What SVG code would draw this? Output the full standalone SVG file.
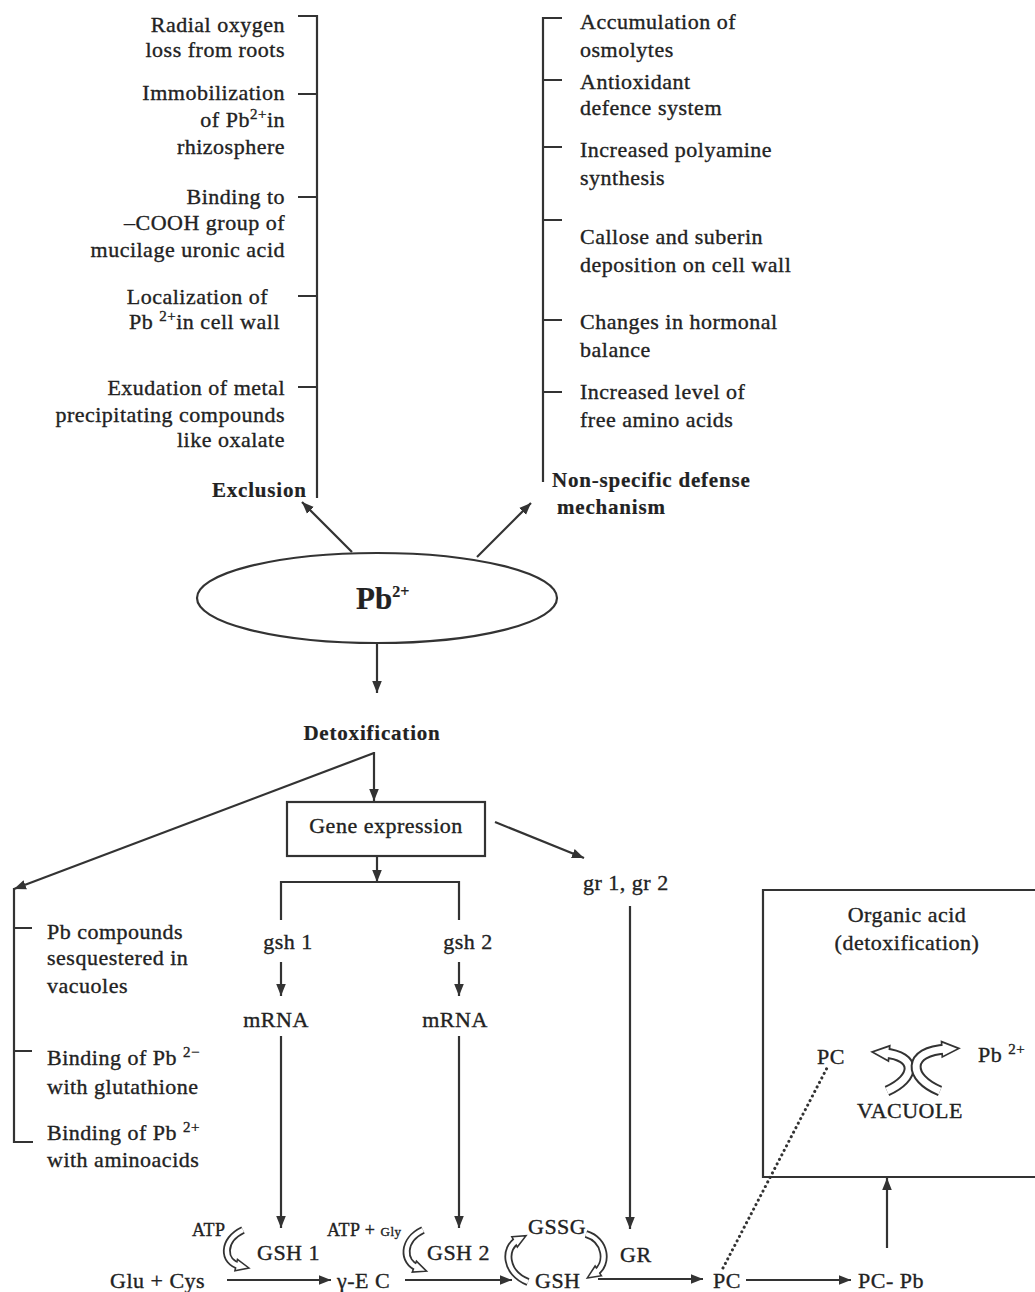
<svg xmlns="http://www.w3.org/2000/svg" width="1035" height="1292" viewBox="0 0 1035 1292">
<style>
text{font-family:"Liberation Serif","Times New Roman",serif;fill:#222;font-size:22px;letter-spacing:0.5px;stroke:#222;stroke-width:0.35px}
.b{font-weight:bold;font-size:21px;letter-spacing:0.8px;stroke-width:0.2px}
.e{text-anchor:end}
.m{text-anchor:middle}
.sm{font-size:18px}
.pb{font-weight:bold;font-size:31px;letter-spacing:0;stroke-width:0.2px}
.ln{stroke:#333;stroke-width:2.2;fill:none}
.ar{stroke:#333;stroke-width:2.2;fill:none;marker-end:url(#arr)}
.band{stroke:#333;stroke-width:8;fill:none;marker-end:url(#hol)}
.bandw{stroke:#fff;stroke-width:4.4;fill:none}
.band2{stroke:#333;stroke-width:11;fill:none;marker-end:url(#hol2)}
.bandw2{stroke:#fff;stroke-width:7;fill:none}
.dot{stroke:#333;stroke-width:3;fill:none;stroke-dasharray:0.1 5;stroke-linecap:round}
</style>
<defs>
<marker id="arr" viewBox="0 0 10 8" markerWidth="12" markerHeight="10" refX="10" refY="4" orient="auto" markerUnits="userSpaceOnUse">
<path d="M0,0 L10,4 L0,8 z" fill="#333"/>
</marker>
<marker id="hol" viewBox="0 0 10 10" markerWidth="13" markerHeight="13" refX="3" refY="5" orient="auto" markerUnits="userSpaceOnUse" overflow="visible">
<path d="M0,0.5 L10,5 L0,9.5 z" fill="#fff" stroke="#333" stroke-width="1.2"/>
</marker>
<marker id="hol2" viewBox="0 0 10 10" markerWidth="17" markerHeight="17" refX="3" refY="5" orient="auto" markerUnits="userSpaceOnUse" overflow="visible">
<path d="M0,0.5 L10,5 L0,9.5 z" fill="#fff" stroke="#333" stroke-width="1"/>
</marker>
</defs>
<rect width="1035" height="1292" fill="#fff"/>

<g id="connectors">
<path class="ln" d="M298 16 H317 V498 M298 94 H317 M298 197 H317 M298 296 H317 M298 387 H317"/>
<path class="ln" d="M562 18 H543 V482 M543 80 H562 M543 147 H562 M543 220 H562 M543 320 H562 M543 392 H562"/>
<line class="ar" x1="352" y1="552" x2="302" y2="502"/>
<line class="ar" x1="477" y1="557" x2="531" y2="503"/>
<line class="ar" x1="377" y1="643" x2="377" y2="693"/>
<line class="ar" x1="374" y1="752" x2="374" y2="801"/>
<line class="ar" x1="374" y1="753" x2="14" y2="889"/>
<path class="ln" d="M14 888 V1142 H33 M14 928 H32 M14 1051 H32"/>
<line class="ar" x1="495" y1="822" x2="584" y2="858"/>
<line class="ar" x1="377" y1="856" x2="377" y2="882"/>
<path class="ln" d="M281 920 V882 H459 V920"/>
<line class="ar" x1="281" y1="962" x2="281" y2="996"/>
<line class="ar" x1="459" y1="962" x2="459" y2="996"/>
<line class="ar" x1="281" y1="1036" x2="281" y2="1228"/>
<line class="ar" x1="459" y1="1036" x2="459" y2="1228"/>
<line class="ar" x1="630" y1="906" x2="630" y2="1229"/>
<line class="ar" x1="227" y1="1280" x2="331" y2="1280"/>
<line class="ar" x1="405" y1="1280" x2="512" y2="1280"/>
<line class="ar" x1="598" y1="1279" x2="703" y2="1279"/>
<line class="ar" x1="746" y1="1280" x2="851" y2="1280"/>
<line class="ar" x1="887" y1="1248" x2="887" y2="1178"/>
<line class="dot" x1="723" y1="1268" x2="828" y2="1066"/>
<path class="band" d="M243 1230 C222 1240 222 1262 240 1266"/>
<path class="bandw" d="M243 1230 C222 1240 222 1262 240 1266"/>
<path class="band" d="M423 1230 C402 1240 402 1262 418 1268"/>
<path class="bandw" d="M423 1230 C402 1240 402 1262 418 1268"/>
<path class="band" d="M528 1282 C505 1273 503 1248 518 1240"/>
<path class="bandw" d="M528 1282 C505 1273 503 1248 518 1240"/>
<path class="band" d="M586 1234 C606 1240 609 1264 595 1273"/>
<path class="bandw" d="M586 1234 C606 1240 609 1264 595 1273"/>
<path class="band2" d="M887 1091 C916 1078 918 1056 884 1053"/>
<path class="bandw2" d="M887 1091 C916 1078 918 1056 884 1053"/>
<path class="band2" d="M940 1091 C908 1078 906 1051 947 1049"/>
<path class="bandw2" d="M940 1091 C908 1078 906 1051 947 1049"/>
</g>

<g id="exclusion-items">
<text class="e" x="285" y="32">Radial oxygen</text>
<text class="e" x="285" y="57">loss from roots</text>
<text class="e" x="285" y="100">Immobilization</text>
<text class="e" x="285" y="127">of Pb<tspan font-size="15" dy="-8">2+</tspan><tspan dy="8">in</tspan></text>
<text class="e" x="285" y="154">rhizosphere</text>
<text class="e" x="285" y="204">Binding to</text>
<text class="e" x="285" y="230">–COOH group of</text>
<text class="e" x="285" y="257">mucilage uronic acid</text>
<text class="e" x="268" y="304">Localization of</text>
<text class="e" x="280" y="329">Pb <tspan font-size="15" dy="-8">2+</tspan><tspan dy="8">in cell wall</tspan></text>
<text class="e" x="285" y="395">Exudation of metal</text>
<text class="e" x="285" y="422">precipitating compounds</text>
<text class="e" x="285" y="447">like oxalate</text>
</g>
<g id="exclusion"><text class="b" x="212" y="497">Exclusion</text></g>

<g id="nonspecific-items">
<text x="580" y="29">Accumulation of</text>
<text x="580" y="57">osmolytes</text>
<text x="580" y="89">Antioxidant</text>
<text x="580" y="115">defence system</text>
<text x="580" y="157">Increased polyamine</text>
<text x="580" y="185">synthesis</text>
<text x="580" y="244">Callose and suberin</text>
<text x="580" y="272">deposition on cell wall</text>
<text x="580" y="329">Changes in hormonal</text>
<text x="580" y="357">balance</text>
<text x="580" y="399">Increased level of</text>
<text x="580" y="427">free amino acids</text>
</g>
<g id="nonspecific">
<text class="b" x="552" y="487">Non-specific defense</text>
<text class="b" x="557" y="514">mechanism</text>
</g>

<g id="pb">
<ellipse cx="377" cy="598" rx="180" ry="45" fill="#fff" stroke="#333" stroke-width="2.2"/>
<text class="pb" x="356" y="609">Pb<tspan font-size="16" dy="-12">2+</tspan></text>
</g>

<g id="detoxification"><text class="b m" x="372" y="740">Detoxification</text></g>

<g id="gene-expression">
<rect x="287" y="802" width="198" height="54" fill="#fff" stroke="#333" stroke-width="2.2"/>
<text class="m" x="386" y="833">Gene expression</text>
</g>

<g id="gr"><text x="583" y="890">gr 1, gr 2</text></g>
<g id="gsh1"><text class="m" x="288" y="949">gsh 1</text></g>
<g id="gsh2"><text class="m" x="468" y="949">gsh 2</text></g>
<g id="mrna1"><text class="m" x="276" y="1027">mRNA</text></g>
<g id="mrna2"><text class="m" x="455" y="1027">mRNA</text></g>

<g id="detox-items">
<text x="47" y="939">Pb compounds</text>
<text x="47" y="965">sesquestered in</text>
<text x="47" y="993">vacuoles</text>
<text x="47" y="1065">Binding of Pb <tspan font-size="15" dy="-8">2−</tspan></text>
<text x="47" y="1094">with glutathione</text>
<text x="47" y="1140">Binding of Pb <tspan font-size="15" dy="-8">2+</tspan></text>
<text x="47" y="1167">with aminoacids</text>
</g>

<g id="pathway">
<text x="110" y="1288">Glu + Cys</text>
<text x="337" y="1288">γ-E C</text>
<text class="sm" x="192" y="1236">ATP</text>
<text class="sm" x="327" y="1236">ATP + <tspan font-size="13">Gly</tspan></text>
<text x="257" y="1260">GSH 1</text>
<text x="427" y="1260">GSH 2</text>
<text x="528" y="1234">GSSG</text>
<text x="535" y="1288">GSH</text>
<text x="620" y="1262">GR</text>
<text x="713" y="1288">PC</text>
<text x="858" y="1288">PC- Pb</text>
</g>

<g id="vacuole">
<path class="ln" d="M1040 890 H763 V1177 H1040"/>
<text class="m" x="907" y="922">Organic acid</text>
<text class="m" x="907" y="950">(detoxification)</text>
<text x="817" y="1064">PC</text>
<text x="978" y="1062">Pb <tspan font-size="15" dy="-8">2+</tspan></text>
<text class="m" x="910" y="1118">VACUOLE</text>
</g>
</svg>
